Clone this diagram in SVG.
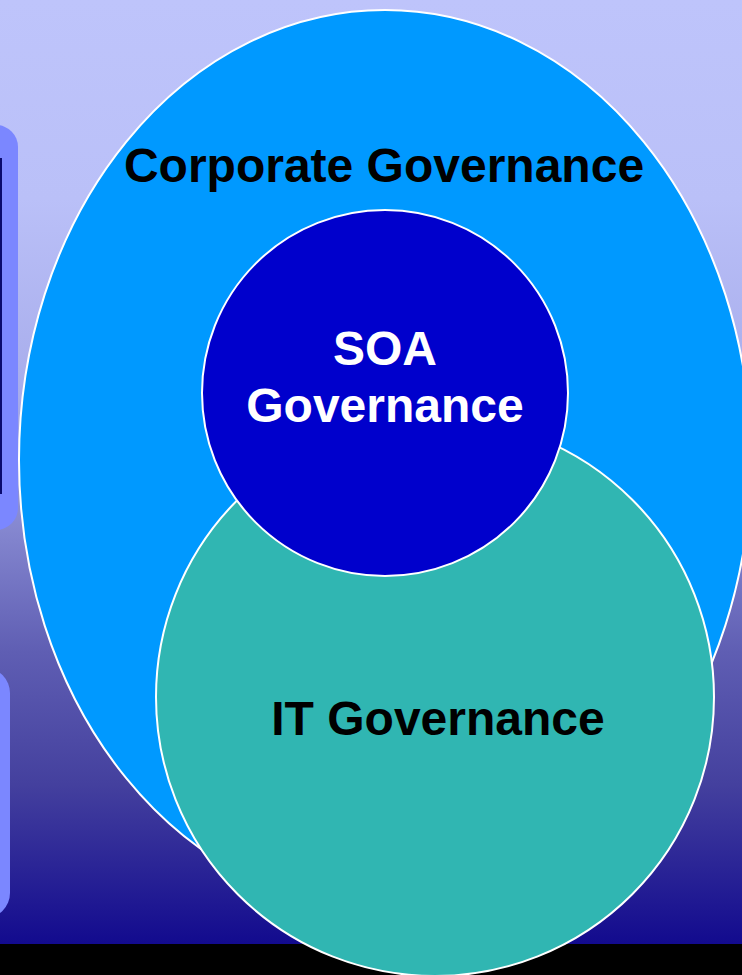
<svg xmlns="http://www.w3.org/2000/svg" width="742" height="975" viewBox="0 0 742 975">
  <defs>
    <linearGradient id="bg" x1="0" y1="0" x2="0" y2="945" gradientUnits="userSpaceOnUse">
      <stop offset="0" stop-color="#BEC4FB"/>
      <stop offset="0.21" stop-color="#BAC0F8"/>
      <stop offset="0.42" stop-color="#A7ACEB"/>
      <stop offset="0.53" stop-color="#8D90D6"/>
      <stop offset="0.69" stop-color="#5F5EB3"/>
      <stop offset="0.83" stop-color="#44409E"/>
      <stop offset="1" stop-color="#120A8E"/>
    </linearGradient>
    <style>
      .lbl { font-family: "Liberation Sans", Arial, sans-serif; font-weight: bold; font-size: 48px; text-anchor: middle; }
      .ring { stroke: #FFFFFF; stroke-width: 2; }
      .side { fill: #7B87FF; }
    </style>
  </defs>
  <rect x="0" y="0" width="742" height="945" fill="url(#bg)"/>
  <rect x="0" y="944" width="742" height="31" fill="#000000"/>
  <g id="side-panels">
    <rect class="side" x="-30" y="125" width="48" height="405" rx="22"/>
    <rect x="-20" y="158" width="22" height="336" fill="#0A0A6E"/>
    <rect class="side" x="-40" y="668" width="50" height="250" rx="25"/>
  </g>
  <g id="corporate">
    <ellipse class="ring" cx="385" cy="460" rx="366" ry="450" fill="#0099FF"/>
    <text class="lbl" x="384" y="182" fill="#000000">Corporate Governance</text>
  </g>
  <g id="it">
    <circle class="ring" cx="435" cy="697" r="279" fill="#30B6B2"/>
    <text class="lbl" x="438" y="735" fill="#000000">IT Governance</text>
  </g>
  <g id="soa">
    <circle class="ring" cx="385" cy="393" r="183" fill="#0000CC"/>
    <text class="lbl" x="385" y="365" fill="#FFFFFF">SOA</text>
    <text class="lbl" x="385" y="422" fill="#FFFFFF">Governance</text>
  </g>
  <g id="connectors"/>
</svg>
